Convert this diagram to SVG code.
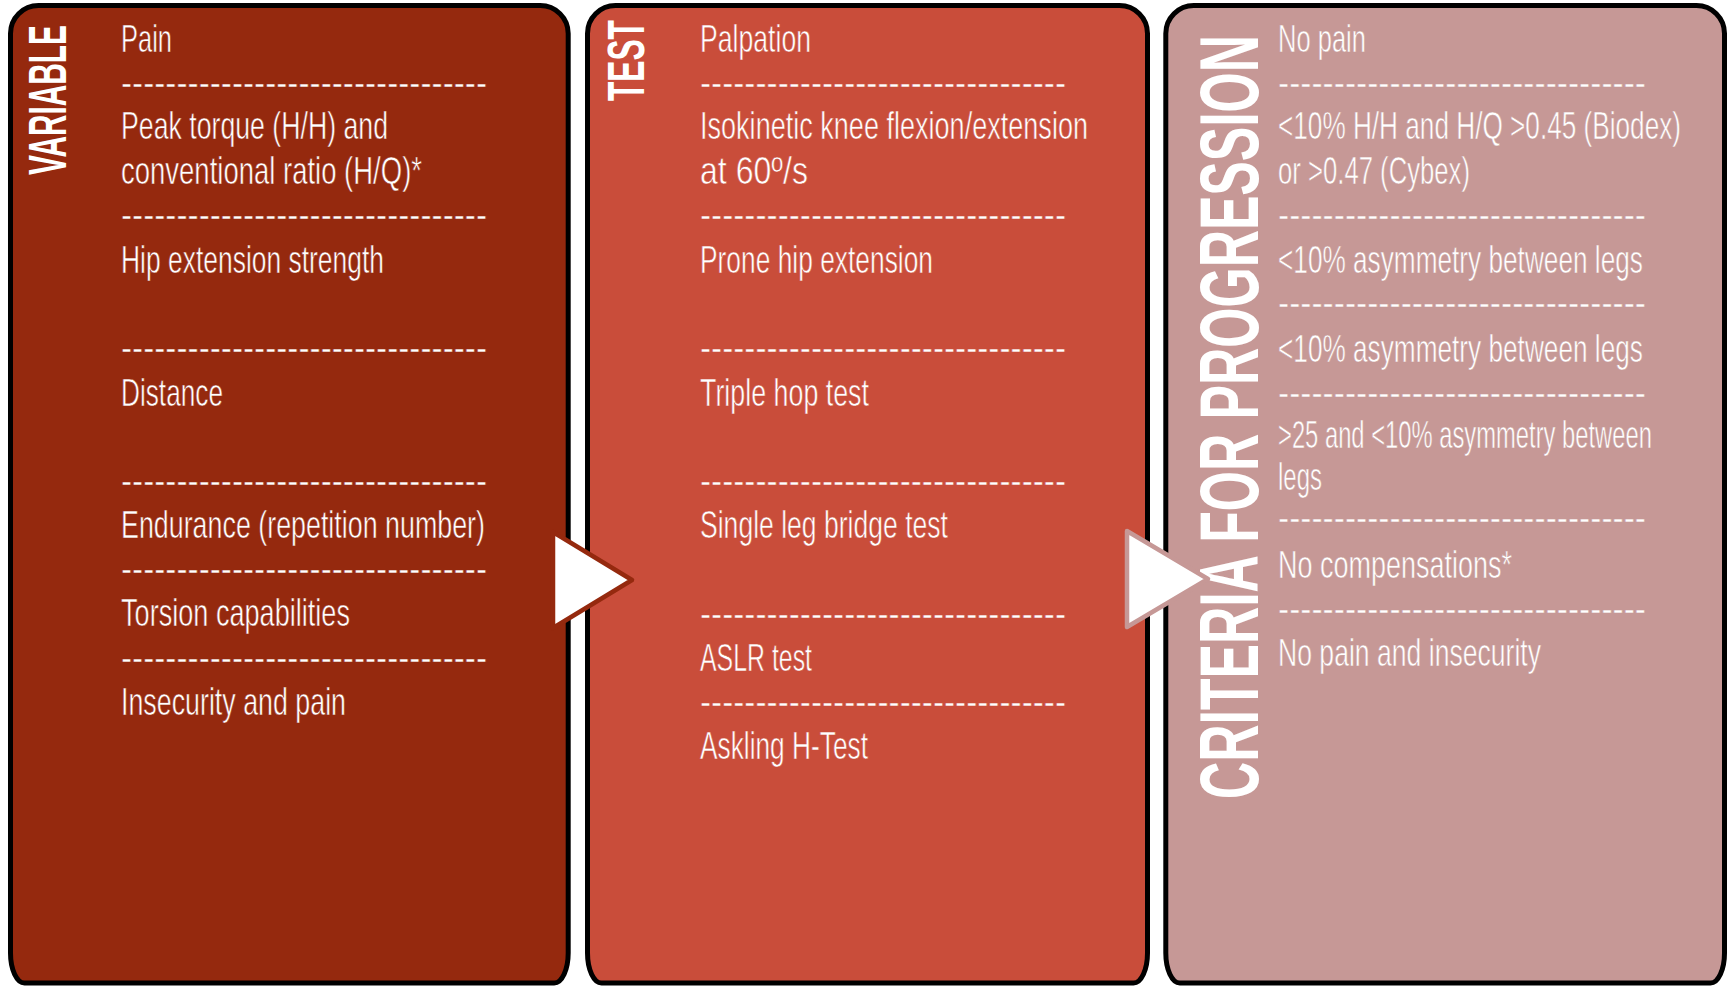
<svg xmlns="http://www.w3.org/2000/svg" width="1729" height="987" viewBox="0 0 1729 987">
  <style>
    .panel { stroke: #000; stroke-width: 5; }
    .p1 { fill: #95290E; }
    .p2 { fill: #C94D3A; }
    .p3 { fill: #C69896; }
    .t { font-family: "Liberation Sans Narrow", "Liberation Sans", Arial, sans-serif; font-size: 39px; fill: #fff; stroke-width: 0.6; }
    #variable .t { stroke: #95290E; }
    #test .t { stroke: #C94D3A; }
    #criteria .t { stroke: #C69896; }
    .h { font-family: "Liberation Sans", Arial, sans-serif; font-weight: bold; fill: #fff; }
    .arrow { fill: #fff; stroke-width: 4.5; stroke-linejoin: round; }
  </style>
  <rect width="1729" height="987" fill="#fff"/>

  <!-- Column 1: variables -->
  <g id="variable">
    <path class="panel p1" d="M10.5,33.5 A28,28 0 0 1 38.5,5.5 H540.2 A28,28 0 0 1 568.2,33.5 V953 A14,30 0 0 1 554.2,983 H24.5 A14,30 0 0 1 10.5,953 Z"/>
    <text class="h" font-size="53" transform="translate(66,175) rotate(-90) scale(0.561,1)">VARIABLE</text>
    <text class="t" x="121" y="52" textLength="51" lengthAdjust="spacingAndGlyphs">Pain</text>
    <text class="t" x="121" y="96" textLength="366" lengthAdjust="spacingAndGlyphs">---------------------------------</text>
    <text class="t" x="121" y="139" textLength="267" lengthAdjust="spacingAndGlyphs">Peak torque (H/H) and</text>
    <text class="t" x="121" y="184" textLength="301" lengthAdjust="spacingAndGlyphs">conventional ratio (H/Q)*</text>
    <text class="t" x="121" y="228" textLength="366" lengthAdjust="spacingAndGlyphs">---------------------------------</text>
    <text class="t" x="121" y="273" textLength="263" lengthAdjust="spacingAndGlyphs">Hip extension strength</text>
    <text class="t" x="121" y="361" textLength="366" lengthAdjust="spacingAndGlyphs">---------------------------------</text>
    <text class="t" x="121" y="406" textLength="102" lengthAdjust="spacingAndGlyphs">Distance</text>
    <text class="t" x="121" y="494" textLength="366" lengthAdjust="spacingAndGlyphs">---------------------------------</text>
    <text class="t" x="121" y="538" textLength="364" lengthAdjust="spacingAndGlyphs">Endurance (repetition number)</text>
    <text class="t" x="121" y="582" textLength="366" lengthAdjust="spacingAndGlyphs">---------------------------------</text>
    <text class="t" x="121" y="626" textLength="229" lengthAdjust="spacingAndGlyphs">Torsion capabilities</text>
    <text class="t" x="121" y="671" textLength="366" lengthAdjust="spacingAndGlyphs">---------------------------------</text>
    <text class="t" x="121" y="715" textLength="225" lengthAdjust="spacingAndGlyphs">Insecurity and pain</text>
  </g>

  <!-- Column 2: tests -->
  <g id="test">
    <path class="panel p2" d="M587.5,33.5 A28,28 0 0 1 615.5,5.5 H1119.5 A28,28 0 0 1 1147.5,33.5 V953 A14,30 0 0 1 1133.5,983 H601.5 A14,30 0 0 1 587.5,953 Z"/>
    <text class="h" font-size="51" transform="translate(643.5,101) rotate(-90) scale(0.621,1)">TEST</text>
    <text class="t" x="700" y="52" textLength="111" lengthAdjust="spacingAndGlyphs">Palpation</text>
    <text class="t" x="700" y="96" textLength="366" lengthAdjust="spacingAndGlyphs">---------------------------------</text>
    <text class="t" x="700" y="139" textLength="388" lengthAdjust="spacingAndGlyphs">Isokinetic knee flexion/extension</text>
    <text class="t" x="700" y="184" textLength="108" lengthAdjust="spacingAndGlyphs">at 60º/s</text>
    <text class="t" x="700" y="228" textLength="366" lengthAdjust="spacingAndGlyphs">---------------------------------</text>
    <text class="t" x="700" y="273" textLength="233" lengthAdjust="spacingAndGlyphs">Prone hip extension</text>
    <text class="t" x="700" y="361" textLength="366" lengthAdjust="spacingAndGlyphs">---------------------------------</text>
    <text class="t" x="700" y="406" textLength="169" lengthAdjust="spacingAndGlyphs">Triple hop test</text>
    <text class="t" x="700" y="494" textLength="366" lengthAdjust="spacingAndGlyphs">---------------------------------</text>
    <text class="t" x="700" y="538" textLength="248" lengthAdjust="spacingAndGlyphs">Single leg bridge test</text>
    <text class="t" x="700" y="627" textLength="366" lengthAdjust="spacingAndGlyphs">---------------------------------</text>
    <text class="t" x="700" y="671" textLength="112" lengthAdjust="spacingAndGlyphs">ASLR test</text>
    <text class="t" x="700" y="715" textLength="366" lengthAdjust="spacingAndGlyphs">---------------------------------</text>
    <text class="t" x="700" y="759" textLength="168" lengthAdjust="spacingAndGlyphs">Askling H-Test</text>
  </g>

  <!-- Column 3: progression criteria -->
  <g id="criteria">
    <path class="panel p3" d="M1165.8,33.5 A28,28 0 0 1 1193.8,5.5 H1696.5 A28,28 0 0 1 1724.5,33.5 V953 A14,30 0 0 1 1710.5,983 H1179.8 A14,30 0 0 1 1165.8,953 Z"/>
    <text class="h" font-size="84" transform="translate(1258,799) rotate(-90) scale(0.6147,1)">CRITERIA FOR PROGRESSION</text>
    <text class="t" x="1278" y="52" textLength="88" lengthAdjust="spacingAndGlyphs">No pain</text>
    <text class="t" x="1278" y="96" textLength="368" lengthAdjust="spacingAndGlyphs">---------------------------------</text>
    <text class="t" transform="translate(1278,139) scale(0.67,1)" textLength="601.5" lengthAdjust="spacingAndGlyphs">&lt;10% H/H and H/Q &gt;0.45 (Biodex)</text>
    <text class="t" x="1278" y="184" textLength="192" lengthAdjust="spacingAndGlyphs">or &gt;0.47 (Cybex)</text>
    <text class="t" x="1278" y="228" textLength="368" lengthAdjust="spacingAndGlyphs">---------------------------------</text>
    <text class="t" transform="translate(1278,273) scale(0.672,1)" textLength="543" lengthAdjust="spacingAndGlyphs">&lt;10% asymmetry between legs</text>
    <text class="t" x="1278" y="316" textLength="368" lengthAdjust="spacingAndGlyphs">---------------------------------</text>
    <text class="t" transform="translate(1278,362) scale(0.672,1)" textLength="543" lengthAdjust="spacingAndGlyphs">&lt;10% asymmetry between legs</text>
    <text class="t" x="1278" y="406" textLength="368" lengthAdjust="spacingAndGlyphs">---------------------------------</text>
    <text class="t" transform="translate(1278,448) scale(0.61,1)" textLength="613" lengthAdjust="spacingAndGlyphs">&gt;25 and &lt;10% asymmetry between</text>
    <text class="t" x="1278" y="490" textLength="44" lengthAdjust="spacingAndGlyphs">legs</text>
    <text class="t" x="1278" y="531" textLength="368" lengthAdjust="spacingAndGlyphs">---------------------------------</text>
    <text class="t" x="1278" y="578" textLength="234" lengthAdjust="spacingAndGlyphs">No compensations*</text>
    <text class="t" x="1278" y="622" textLength="368" lengthAdjust="spacingAndGlyphs">---------------------------------</text>
    <text class="t" x="1278" y="666" textLength="263" lengthAdjust="spacingAndGlyphs">No pain and insecurity</text>
  </g>

  <!-- Progression arrows between columns -->
  <g id="connectors">
    <polygon class="arrow" stroke="#95290E" points="553,532 632,580 553,628"/>
    <polygon class="arrow" stroke="#C69896" points="1127,531 1208,579 1127,627"/>
  </g>
</svg>
